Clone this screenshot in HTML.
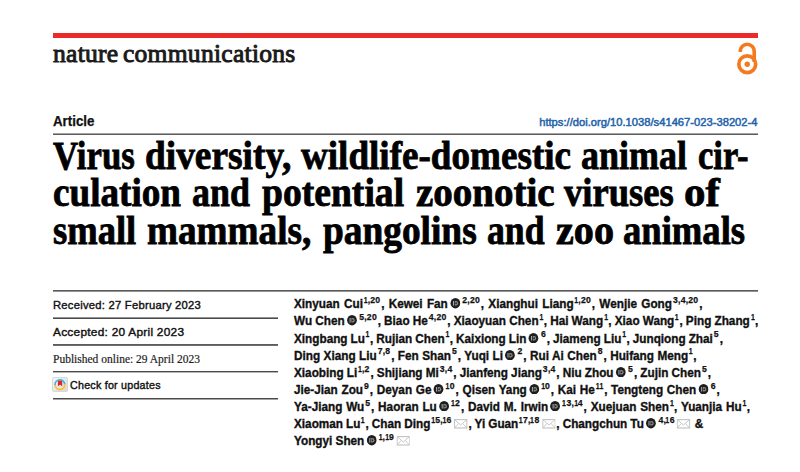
<!DOCTYPE html>
<html>
<head>
<meta charset="utf-8">
<style>
html,body{margin:0;padding:0;background:#fff;}
body{width:800px;height:472px;overflow:hidden;position:relative;font-family:"Liberation Sans",sans-serif;color:#111;}
.abs{position:absolute;white-space:nowrap;}
#redbar{left:53px;top:33px;width:705px;height:5px;background:#ec2a27;}
#logo{left:53px;top:39.8px;font-family:"Liberation Serif",serif;font-weight:normal;font-size:25.6px;line-height:28px;color:#1a1a1a;letter-spacing:0.25px;word-spacing:-2.2px;-webkit-text-stroke:0.95px #1a1a1a;}
#oa{left:735px;top:40px;}
#article{left:53px;top:114.2px;font-size:13.8px;line-height:15px;font-weight:bold;color:#111;-webkit-text-stroke:0.25px #111;transform:scaleX(0.965);transform-origin:0 0;}
#doi{right:42.5px;top:115.7px;font-size:11.2px;font-weight:normal;line-height:13px;color:#1f63ab;-webkit-text-stroke:0.5px #1f63ab;}
.rule{position:absolute;height:2px;}
.tw{position:absolute;font-family:"Liberation Serif",serif;font-weight:bold;font-size:40px;color:#000;-webkit-text-stroke:0.8px #000;line-height:37.5px;height:37.5px;white-space:nowrap;transform-origin:0 0;}
.dt{position:absolute;left:53px;font-size:11.6px;font-weight:normal;line-height:13px;color:#111;letter-spacing:0.25px;-webkit-text-stroke:0.4px #111;transform-origin:0 0;white-space:nowrap;}
#pub{font-family:"Liberation Serif",serif;font-weight:normal;font-size:11.5px;letter-spacing:0;color:#1e1e1e;-webkit-text-stroke:0.2px #1e1e1e;}
#authors{left:293.5px;top:296.3px;font-size:12.5px;transform:scaleX(0.94);transform-origin:0 0;font-weight:bold;line-height:17.14px;color:#111;-webkit-text-stroke:0.35px #111;}
sup{font-size:9.2px;line-height:0;vertical-align:baseline;position:relative;top:-5.3px;margin:0 0.8px 0 1.1px;letter-spacing:0.25px;-webkit-text-stroke:0.25px #111;}
.al{height:17.14px;white-space:nowrap;}
sup i{font-style:normal;display:inline-block;transform:scaleX(0.8);transform-origin:100% 50%;margin-left:-1.4px;letter-spacing:0.25px;}
sup.s1{margin-right:0.4px;}
.oi{display:inline-block;width:11.4px;height:10.4px;vertical-align:baseline;position:relative;top:0.4px;margin:0 1.0px 0 2.0px;}
.em{display:inline-block;width:14.6px;height:9.6px;vertical-align:baseline;position:relative;top:0.4px;margin:0 1px 0 1.5px;}
</style>
</head>
<body>
<div class="abs" id="redbar"></div>
<div class="abs" id="logo">nature communications</div>
<svg class="abs" id="oa" width="26" height="38" viewBox="0 0 26 38">
  <path d="M5.3 11.9 V11.25 A6.95 6.95 0 0 1 19.2 11.25 V22" fill="none" stroke="#f37a1f" stroke-width="3.6"/>
  <circle cx="12.25" cy="24.2" r="8.4" fill="none" stroke="#f37a1f" stroke-width="3.7"/>
  <circle cx="12.25" cy="24.2" r="2.7" fill="#f37a1f"/>
</svg>
<div class="abs" id="article">Article</div>
<div class="abs" id="doi">https://doi.org/10.1038/s41467-023-38202-4</div>

<div class="rule" style="left:53px;top:133px;width:705px;background:linear-gradient(#a4a4a4 50%,#5c5c5c 50%);"></div>
<div class="rule" style="left:53px;top:290px;width:705px;background:linear-gradient(#5c5c5c 50%,#929292 50%);"></div>
<div class="rule" style="left:53px;top:317px;width:225px;background:linear-gradient(#929292 50%,#4a4a4a 50%);"></div>
<div class="rule" style="left:53px;top:344px;width:225px;background:linear-gradient(#5c5c5c 50%,#6e6e6e 50%);"></div>
<div class="rule" style="left:53px;top:371px;width:225px;background:linear-gradient(#4a4a4a 50%,#b7b7b7 50%);"></div>
<div class="rule" style="left:53px;top:398px;width:225px;background:linear-gradient(#4a4a4a 50%,#a4a4a4 50%);"></div>
<div class="tw" style="left:53.00px;top:136.50px;transform:scaleX(0.8686)">Virus</div>
<div class="tw" style="left:144.82px;top:136.50px;transform:scaleX(0.9345)">diversity,</div>
<div class="tw" style="left:301.00px;top:136.50px;transform:scaleX(0.9278)">wildlife-domestic</div>
<div class="tw" style="left:581.20px;top:136.50px;transform:scaleX(0.8991)">animal</div>
<div class="tw" style="left:697.94px;top:136.50px;transform:scaleX(0.8632)">cir-</div>
<div class="tw" style="left:52.87px;top:174.00px;transform:scaleX(0.9285)">culation</div>
<div class="tw" style="left:192.00px;top:174.00px;transform:scaleX(0.8969)">and</div>
<div class="tw" style="left:262.10px;top:174.00px;transform:scaleX(0.9404)">potential</div>
<div class="tw" style="left:415.60px;top:174.00px;transform:scaleX(0.9754)">zoonotic</div>
<div class="tw" style="left:564.00px;top:174.00px;transform:scaleX(0.9150)">viruses</div>
<div class="tw" style="left:683.73px;top:174.00px;transform:scaleX(1.0727)">of</div>
<div class="tw" style="left:52.54px;top:211.50px;transform:scaleX(0.9139)">small</div>
<div class="tw" style="left:146.82px;top:211.50px;transform:scaleX(0.9300)">mammals,</div>
<div class="tw" style="left:322.50px;top:211.50px;transform:scaleX(0.9341)">pangolins</div>
<div class="tw" style="left:486.86px;top:211.50px;transform:scaleX(0.8930)">and</div>
<div class="tw" style="left:556.10px;top:211.50px;transform:scaleX(1.0035)">zoo</div>
<div class="tw" style="left:622.78px;top:211.50px;transform:scaleX(0.9152)">animals</div>


<div class="dt" style="top:298.2px;transform:scaleX(0.969)">Received: 27 February 2023</div>
<div class="dt" style="top:325.2px;transform:scaleX(1.024)">Accepted: 20 April 2023</div>
<div class="dt" id="pub" style="top:353px;">Published online: 29 April 2023</div>
<svg class="abs" style="left:52px;top:377px;" width="16" height="15" viewBox="0 0 16 15">
  <defs><linearGradient id="cg" x1="0" y1="0" x2="1" y2="1"><stop offset="0" stop-color="#f7f7f7"/><stop offset="1" stop-color="#d9d9d9"/></linearGradient></defs>
  <rect x="0.5" y="0.5" width="15" height="14" rx="1.2" fill="url(#cg)" stroke="#d0d0d0" stroke-width="0.8"/>
  <path d="M3.1 8.2 A4.8 4.8 0 0 1 12.7 7.2" fill="none" stroke="#3db5e0" stroke-width="1.7"/>
  <path d="M12.7 7.2 A4.8 4.8 0 0 1 3.1 8.2" fill="none" stroke="#f4c323" stroke-width="1.7"/>
  <path d="M5.9 4.6 Q5.9 3.8 6.7 3.8 H9.4 Q10.2 3.8 10.2 4.6 V9.2 L8.05 7.8 L5.9 9.2 Z" fill="#e9232c"/>
</svg>
<div class="dt" style="left:69.5px;top:378.6px;font-size:11.2px;transform:scaleX(0.955)">Check for updates</div>

<div class="abs" id="authors">
<div class="al" id="al1" style="word-spacing:1.06px">Xinyuan Cui<sup><i>1</i>,20</sup>, Kewei Fan<svg class="oi" viewBox="0 0 10 10"><circle cx="5" cy="5" r="5" fill="#1e1e1e"/><rect x="2.5" y="2.9" width="1.1" height="4.4" fill="#a6a6a6"/><path d="M4.4 2.9 h1.2 a2.2 2.2 0 0 1 0 4.4 h-1.2 z" fill="#8a8a8a"/><circle cx="5.7" cy="5.1" r="0.9" fill="#262626"/></svg><sup>2,20</sup>, Xianghui Liang<sup><i>1</i>,20</sup>, Wenjie Gong<sup>3,4,20</sup>,</div>
<div class="al" id="al2" style="word-spacing:-0.09px">Wu Chen<svg class="oi" viewBox="0 0 10 10"><circle cx="5" cy="5" r="5" fill="#1e1e1e"/><rect x="2.5" y="2.9" width="1.1" height="4.4" fill="#a6a6a6"/><path d="M4.4 2.9 h1.2 a2.2 2.2 0 0 1 0 4.4 h-1.2 z" fill="#8a8a8a"/><circle cx="5.7" cy="5.1" r="0.9" fill="#262626"/></svg><sup>5,20</sup>, Biao He<sup>4,20</sup>, Xiaoyuan Chen<sup class="s1"><i>1</i></sup>, Hai Wang<sup class="s1"><i>1</i></sup>, Xiao Wang<sup class="s1"><i>1</i></sup>, Ping Zhang<sup class="s1"><i>1</i></sup>,</div>
<div class="al" id="al3" style="word-spacing:-0.25px">Xingbang Lu<sup class="s1"><i>1</i></sup>, Rujian Chen<sup class="s1"><i>1</i></sup>, Kaixiong Lin<svg class="oi" viewBox="0 0 10 10"><circle cx="5" cy="5" r="5" fill="#1e1e1e"/><rect x="2.5" y="2.9" width="1.1" height="4.4" fill="#a6a6a6"/><path d="M4.4 2.9 h1.2 a2.2 2.2 0 0 1 0 4.4 h-1.2 z" fill="#8a8a8a"/><circle cx="5.7" cy="5.1" r="0.9" fill="#262626"/></svg><sup>6</sup>, Jiameng Liu<sup class="s1"><i>1</i></sup>, Junqiong Zhai<sup>5</sup>,</div>
<div class="al" id="al4" style="word-spacing:0.21px">Ding Xiang Liu<sup>7,8</sup>, Fen Shan<sup>5</sup>, Yuqi Li<svg class="oi" viewBox="0 0 10 10"><circle cx="5" cy="5" r="5" fill="#1e1e1e"/><rect x="2.5" y="2.9" width="1.1" height="4.4" fill="#a6a6a6"/><path d="M4.4 2.9 h1.2 a2.2 2.2 0 0 1 0 4.4 h-1.2 z" fill="#8a8a8a"/><circle cx="5.7" cy="5.1" r="0.9" fill="#262626"/></svg><sup>2</sup>, Rui Ai Chen<sup>8</sup>, Huifang Meng<sup class="s1"><i>1</i></sup>,</div>
<div class="al" id="al5" style="word-spacing:-0.12px">Xiaobing Li<sup><i>1</i>,2</sup>, Shijiang Mi<sup>3,4</sup>, Jianfeng Jiang<sup>3,4</sup>, Niu Zhou<svg class="oi" viewBox="0 0 10 10"><circle cx="5" cy="5" r="5" fill="#1e1e1e"/><rect x="2.5" y="2.9" width="1.1" height="4.4" fill="#a6a6a6"/><path d="M4.4 2.9 h1.2 a2.2 2.2 0 0 1 0 4.4 h-1.2 z" fill="#8a8a8a"/><circle cx="5.7" cy="5.1" r="0.9" fill="#262626"/></svg><sup>5</sup>, Zujin Chen<sup>5</sup>,</div>
<div class="al" id="al6" style="word-spacing:0.47px">Jie-Jian Zou<sup>9</sup>, Deyan Ge<svg class="oi" viewBox="0 0 10 10"><circle cx="5" cy="5" r="5" fill="#1e1e1e"/><rect x="2.5" y="2.9" width="1.1" height="4.4" fill="#a6a6a6"/><path d="M4.4 2.9 h1.2 a2.2 2.2 0 0 1 0 4.4 h-1.2 z" fill="#8a8a8a"/><circle cx="5.7" cy="5.1" r="0.9" fill="#262626"/></svg><sup><i>1</i>0</sup>, Qisen Yang<svg class="oi" viewBox="0 0 10 10"><circle cx="5" cy="5" r="5" fill="#1e1e1e"/><rect x="2.5" y="2.9" width="1.1" height="4.4" fill="#a6a6a6"/><path d="M4.4 2.9 h1.2 a2.2 2.2 0 0 1 0 4.4 h-1.2 z" fill="#8a8a8a"/><circle cx="5.7" cy="5.1" r="0.9" fill="#262626"/></svg><sup><i>1</i>0</sup>, Kai He<sup><i>1</i><i>1</i></sup>, Tengteng Chen<svg class="oi" viewBox="0 0 10 10"><circle cx="5" cy="5" r="5" fill="#1e1e1e"/><rect x="2.5" y="2.9" width="1.1" height="4.4" fill="#a6a6a6"/><path d="M4.4 2.9 h1.2 a2.2 2.2 0 0 1 0 4.4 h-1.2 z" fill="#8a8a8a"/><circle cx="5.7" cy="5.1" r="0.9" fill="#262626"/></svg><sup>6</sup>,</div>
<div class="al" id="al7" style="word-spacing:0.59px">Ya-Jiang Wu<sup>5</sup>, Haoran Lu<svg class="oi" viewBox="0 0 10 10"><circle cx="5" cy="5" r="5" fill="#1e1e1e"/><rect x="2.5" y="2.9" width="1.1" height="4.4" fill="#a6a6a6"/><path d="M4.4 2.9 h1.2 a2.2 2.2 0 0 1 0 4.4 h-1.2 z" fill="#8a8a8a"/><circle cx="5.7" cy="5.1" r="0.9" fill="#262626"/></svg><sup><i>1</i>2</sup>, David M. Irwin<svg class="oi" viewBox="0 0 10 10"><circle cx="5" cy="5" r="5" fill="#1e1e1e"/><rect x="2.5" y="2.9" width="1.1" height="4.4" fill="#a6a6a6"/><path d="M4.4 2.9 h1.2 a2.2 2.2 0 0 1 0 4.4 h-1.2 z" fill="#8a8a8a"/><circle cx="5.7" cy="5.1" r="0.9" fill="#262626"/></svg><sup><i>1</i>3,<i>1</i>4</sup>, Xuejuan Shen<sup class="s1"><i>1</i></sup>, Yuanjia Hu<sup class="s1"><i>1</i></sup>,</div>
<div class="al" id="al8" style="word-spacing:-0.23px">Xiaoman Lu<sup class="s1"><i>1</i></sup>, Chan Ding<sup><i>1</i>5,<i>1</i>6</sup><svg class="em" viewBox="0 0 12 8"><rect x="0.5" y="0.5" width="11" height="7" fill="none" stroke="#c6c6c6" stroke-width="1"/><path d="M0.5 0.5 L6 5 L11.5 0.5 M0.5 7.5 L4.3 3.6 M11.5 7.5 L7.7 3.6" fill="none" stroke="#c6c6c6" stroke-width="0.8"/></svg>, Yi Guan<sup><i>1</i>7,<i>1</i>8</sup><svg class="em" viewBox="0 0 12 8"><rect x="0.5" y="0.5" width="11" height="7" fill="none" stroke="#c6c6c6" stroke-width="1"/><path d="M0.5 0.5 L6 5 L11.5 0.5 M0.5 7.5 L4.3 3.6 M11.5 7.5 L7.7 3.6" fill="none" stroke="#c6c6c6" stroke-width="0.8"/></svg>, Changchun Tu<svg class="oi" viewBox="0 0 10 10"><circle cx="5" cy="5" r="5" fill="#1e1e1e"/><rect x="2.5" y="2.9" width="1.1" height="4.4" fill="#a6a6a6"/><path d="M4.4 2.9 h1.2 a2.2 2.2 0 0 1 0 4.4 h-1.2 z" fill="#8a8a8a"/><circle cx="5.7" cy="5.1" r="0.9" fill="#262626"/></svg><sup>4,<i>1</i>6</sup><svg class="em" viewBox="0 0 12 8"><rect x="0.5" y="0.5" width="11" height="7" fill="none" stroke="#c6c6c6" stroke-width="1"/><path d="M0.5 0.5 L6 5 L11.5 0.5 M0.5 7.5 L4.3 3.6 M11.5 7.5 L7.7 3.6" fill="none" stroke="#c6c6c6" stroke-width="0.8"/></svg> &amp;</div>
<div class="al" id="al9" style="word-spacing:0.00px">Yongyi Shen<svg class="oi" viewBox="0 0 10 10"><circle cx="5" cy="5" r="5" fill="#1e1e1e"/><rect x="2.5" y="2.9" width="1.1" height="4.4" fill="#a6a6a6"/><path d="M4.4 2.9 h1.2 a2.2 2.2 0 0 1 0 4.4 h-1.2 z" fill="#8a8a8a"/><circle cx="5.7" cy="5.1" r="0.9" fill="#262626"/></svg><sup><i>1</i>,<i>1</i>9</sup><svg class="em" viewBox="0 0 12 8"><rect x="0.5" y="0.5" width="11" height="7" fill="none" stroke="#c6c6c6" stroke-width="1"/><path d="M0.5 0.5 L6 5 L11.5 0.5 M0.5 7.5 L4.3 3.6 M11.5 7.5 L7.7 3.6" fill="none" stroke="#c6c6c6" stroke-width="0.8"/></svg></div>
</div>
</body>
</html>
